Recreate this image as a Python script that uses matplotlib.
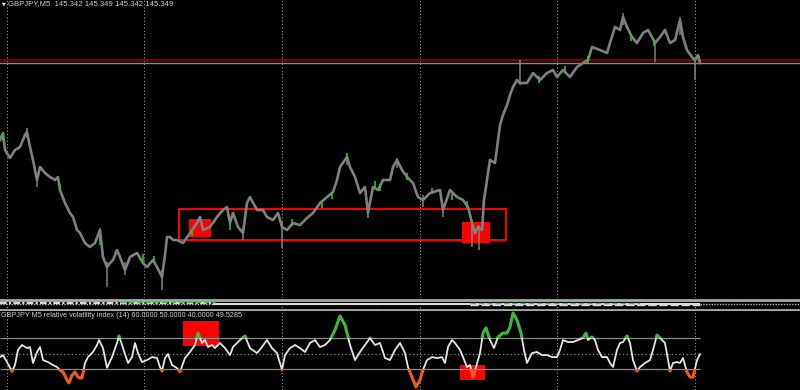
#!/usr/bin/env python3
"""GBPJPY M5 chart with relative volatility index sub-window (MT4 style, dark)."""
import matplotlib
matplotlib.use("Agg")
import matplotlib.pyplot as plt
import numpy as np
from matplotlib.patches import Rectangle

# ---- price path (bar index, price) ----
bar_x = [0, 3, 5, 10, 15, 20, 25, 27, 30, 33, 37, 40, 45, 50, 55, 58, 60, 65, 70, 73,
         77, 80, 85, 90, 95, 100, 103, 107, 110, 113, 117, 120, 125, 130, 137, 143, 147, 153, 157, 162,
         165, 167, 170, 173, 177, 183, 190, 197, 200, 203, 210, 217, 223, 227, 230, 233, 238, 243, 247, 250,
         257, 263, 267, 273, 278, 282, 287, 293, 300, 307, 313, 320, 327, 333, 337, 340, 347, 350, 355, 360,
         365, 368, 373, 378, 383, 390, 393, 397, 402, 407, 413, 418, 423, 430, 440, 443, 450, 457, 463, 468,
         472, 475, 478, 482, 484, 487, 490, 495, 498, 500, 503, 507, 510, 513, 517, 520, 527, 533, 540, 547,
         553, 557, 563, 570, 577, 583, 588, 592, 600, 607, 610, 615, 620, 623, 627, 632, 637, 643, 648, 652,
         655, 660, 665, 670, 675, 680, 683, 687, 692, 695, 698, 700]
price = [144.58, 144.65, 144.48, 144.40, 144.48, 144.51, 144.63, 144.66, 144.51, 144.38,
         144.18, 144.31, 144.25, 144.21, 144.18, 144.21, 144.08, 143.95, 143.85, 143.81,
         143.68, 143.65, 143.55, 143.51, 143.55, 143.68, 143.41, 143.31, 143.35, 143.38,
         143.48, 143.41, 143.28, 143.41, 143.45, 143.35, 143.31, 143.38, 143.31, 143.21,
         143.43, 143.61, 143.61, 143.58, 143.58, 143.55, 143.65, 143.75, 143.81, 143.68,
         143.71, 143.81, 143.88, 143.91, 143.75, 143.85, 143.71, 143.65, 143.95, 144.01,
         143.88, 143.88, 143.81, 143.78, 143.85, 143.71, 143.68, 143.75, 143.73, 143.80,
         143.85, 143.95, 144.01, 144.06, 144.18, 144.31, 144.41, 144.31, 144.21, 144.05,
         144.11, 143.85, 144.11, 144.08, 144.18, 144.18, 144.31, 144.38, 144.28, 144.21,
         144.15, 144.01, 143.98, 144.05, 144.08, 143.88, 144.08, 144.01, 143.98, 143.91,
         143.75, 143.65, 143.71, 143.68, 143.98, 144.18, 144.38, 144.35, 144.58, 144.73,
         144.83, 144.93, 145.03, 145.11, 145.18, 145.15, 145.15, 145.25, 145.18, 145.25,
         145.28, 145.21, 145.28, 145.21, 145.31, 145.35, 145.38, 145.51, 145.48, 145.45,
         145.55, 145.71, 145.68, 145.81, 145.71, 145.61, 145.55, 145.65, 145.68, 145.61,
         145.55, 145.61, 145.68, 145.55, 145.58, 145.78, 145.61, 145.48, 145.41, 145.38,
         145.43, 145.35]

# long wicks (bar index, high, low)
wick_x = [27, 37, 100, 107, 125, 162, 243, 282, 347, 368, 397, 423, 443, 472, 479,
          520, 623, 655, 680, 695]
wick_hi = [144.70, 144.23, 143.70, 143.36, 143.36, 143.28, 143.70, 143.76, 144.43, 143.93,
           144.40, 144.03, 143.93, 143.78, 143.73, 145.38, 145.85, 145.58, 145.81, 145.40]
wick_lo = [144.60, 144.11, 143.58, 143.11, 143.23, 143.08, 143.58, 143.50, 144.33, 143.80,
           144.30, 143.91, 143.81, 143.51, 143.48, 145.13, 145.73, 145.36, 145.63, 145.18]

# green (highlighted) bars
green_x = [3, 60, 100, 143, 154, 192, 230, 292, 322, 332, 347, 375, 380, 407, 432,
           452, 467, 539, 565, 588, 631, 654]
green_p = [144.60, 144.10, 143.56, 143.40, 143.39, 143.65, 143.71, 143.75, 143.93, 144.02,
           144.41, 144.13, 144.10, 144.21, 144.07, 144.01, 143.93, 145.18, 145.28, 145.38,
           145.60, 145.55]

ask_price = 145.38
bid_price = 145.35

# objects drawn on the chart (x0, x1, p_low, p_high)
frame_box = (179, 506, 143.58, 143.89)
fill_boxes = [(189, 211, 143.61, 143.79), (462, 490, 143.55, 143.76)]

grid_x = [7, 144, 282, 420, 557, 695]

# ---- relative volatility index (14) ----
rvi_x = [0, 3, 7, 12, 15, 18, 22, 27, 30, 33, 37, 40, 43, 48, 53, 57, 60, 63, 67, 69,
         72, 75, 78, 82, 85, 88, 93, 97, 99, 103, 107, 112, 117, 119, 123, 128, 132, 135, 138, 142,
         147, 152, 157, 160, 162, 165, 168, 172, 177, 180, 185, 190, 195, 198, 202, 205, 208, 212, 215, 220,
         225, 230, 233, 240, 245, 250, 257, 262, 267, 272, 277, 282, 285, 290, 295, 300, 305, 310, 315, 320,
         325, 330, 335, 340, 345, 350, 355, 360, 365, 370, 375, 380, 385, 390, 395, 400, 405, 408, 412, 416,
         420, 423, 427, 432, 437, 442, 445, 448, 452, 455, 460, 463, 467, 470, 473, 476, 480, 483, 486, 490,
         494, 498, 503, 507, 510, 513, 517, 521, 524, 527, 532, 537, 542, 547, 552, 557, 560, 563, 568, 573,
         578, 583, 586, 588, 592, 595, 598, 602, 607, 610, 613, 617, 620, 623, 627, 630, 633, 637, 640, 645,
         650, 653, 657, 662, 665, 670, 673, 677, 680, 683, 687, 690, 693, 697, 700]
rvi = [47.7, 49.0, 44.5, 38.5, 42.6, 52.3, 55.5, 53.5, 54.2, 43.9, 51.0, 54.2, 45.8, 44.5, 42.6, 41.3, 39.4, 38.1, 32.9, 31.0,
       36.1, 38.1, 34.8, 34.2, 43.9, 47.7, 51.0, 55.5, 58.7, 53.5, 40.8, 47.7, 56.8, 61.3, 53.5, 43.9, 47.7, 56.8, 50.3, 44.5,
       45.8, 47.7, 47.1, 41.3, 38.7, 47.1, 49.7, 42.6, 40.6, 38.3, 47.1, 51.0, 55.5, 63.2, 56.8, 58.7, 54.2, 55.5, 53.5, 56.8,
       53.5, 49.0, 54.2, 58.7, 61.3, 53.5, 50.3, 54.2, 58.7, 53.5, 50.3, 39.5, 49.0, 53.5, 55.5, 53.5, 51.0, 56.8, 58.7, 54.2,
       55.5, 58.7, 65.2, 74.2, 68.4, 55.5, 45.8, 51.0, 55.5, 60.0, 55.5, 56.8, 47.1, 45.8, 52.3, 56.8, 50.3, 41.3, 34.8, 28.4,
       32.9, 39.4, 45.8, 47.7, 47.1, 47.7, 43.9, 54.2, 58.7, 56.8, 52.3, 47.7, 41.3, 42.6, 34.8, 41.3, 50.3, 63.2, 66.5, 58.7,
       53.5, 60.6, 63.2, 63.2, 67.1, 76.1, 71.6, 63.2, 52.3, 43.9, 50.3, 51.0, 49.0, 49.0, 47.7, 47.7, 52.3, 58.7, 57.4, 57.4,
       58.7, 60.0, 63.2, 58.7, 60.6, 58.7, 52.3, 47.7, 47.7, 43.9, 41.3, 52.3, 56.8, 57.4, 61.3, 56.8, 45.8, 38.7, 41.3, 43.9,
       45.8, 52.3, 61.9, 58.7, 56.8, 38.7, 43.9, 44.5, 43.9, 47.1, 38.1, 34.8, 34.8, 45.8, 49.53]
rvi_levels = [60, 50, 40]

# boxes in the indicator window (x0, x1, v_low, v_high)
rvi_boxes = [(183, 219, 54.8, 71.0), (460, 485, 32.9, 42.6)]

TITLE = "GBPJPY,M5  145.342 145.349 145.342 145.349"
SUB_TITLE = "GBPJPY M5 relative volatility index (14) 60.0000 50.0000 40.0000 49.5285"

BG = "#000000"
BAR = "#808080"
GRID = "#9a9a9a"
RED = "#ff0000"

plt.rcParams["font.family"] = ["Liberation Sans", "DejaVu Sans"]

fig = plt.figure(figsize=(8, 3.9), dpi=100, facecolor=BG)
H = 390.0
ax = fig.add_axes([0, 92 / H, 1, 298 / H])
mid = fig.add_axes([0, 79 / H, 1, 13 / H])
low = fig.add_axes([0, 0, 1, 79 / H])

for a in (ax, mid, low):
    a.set_facecolor(BG)
    a.set_xlim(0, 800)
    a.set_xticks(grid_x)
    a.tick_params(length=0, labelbottom=False, labelleft=False)
    a.set_yticks([])
    a.grid(axis="x", color=GRID, linestyle=(0, (1, 2)), linewidth=0.8)
    for s in a.spines.values():
        s.set_visible(False)

# ---- main price window ----
ax.set_ylim(143.00, 145.98)
x0, x1, p0, p1 = frame_box
ax.add_patch(Rectangle((x0, p0), x1 - x0, p1 - p0, fill=False, edgecolor=RED, lw=1.4, zorder=2))
for bx0, bx1, bp0, bp1 in fill_boxes:
    ax.add_patch(Rectangle((bx0, bp0), bx1 - bx0, bp1 - bp0, facecolor=RED, edgecolor="none", zorder=2))
ax.axhline(ask_price, color="#7d0000", lw=1.6, zorder=2)
ax.axhline(bid_price, color="#8a8a8a", lw=1.0, zorder=2)
ax.plot(bar_x, price, color=BAR, lw=1.9, zorder=3)
ax.vlines(wick_x, wick_lo, wick_hi, color=BAR, lw=1.1, zorder=3)
gp = np.array(green_p)
ax.vlines(green_x, gp - 0.035, gp + 0.035, color="#2fc02f", lw=1.2, zorder=4)

fig.text(2 / 800, 1 - 1.5 / H, "\u25bc", color="white", fontsize=3.5, va="top",
         family="DejaVu Sans")
fig.text(8 / 800, 1 - 0.5 / H, TITLE, color="#d0d0d0", fontsize=5.6, va="top")

# ---- squashed middle window ----
mid.set_ylim(13, 0)
mid.axhline(1.5, color="#a8a8a8", lw=2.0)
mid.axhline(11.5, color="#a8a8a8", lw=2.0)
mid.hlines(5.5, 0, 800, color="#bdbdbd", lw=1.0, linestyles=(0, (1, 1)))
mid.hlines(4.8, 0, 213, color="#d8d8d8", lw=1.6, linestyles=(0, (3, 1, 1, 1)))
mid.hlines(5.6, 213, 700, color="#e0e0e0", lw=1.4)
mid.hlines([4.2, 4.8], [120, 470], [215, 640], color="#3bc43b", lw=1.0, linestyles=(0, (4, 2)))
mid.hlines(6.6, 470, 700, color="#d8d8d8", lw=1.0, linestyles=(0, (6, 2)))

# ---- relative volatility index window ----
low.set_ylim(26.5, 77.4)
for rx0, rx1, rv0, rv1 in rvi_boxes:
    low.add_patch(Rectangle((rx0, rv0), rx1 - rx0, rv1 - rv0, facecolor=RED, edgecolor="none", zorder=1))
low.hlines([rvi_levels[0], rvi_levels[2]], 0, rvi_x[-1], color="#8c8c8c", lw=0.9, zorder=2)
low.hlines(rvi_levels[1], 0, rvi_x[-1], color="#8c8c8c", lw=0.9, linestyles=(0, (1, 2)), zorder=2)
low.plot(rvi_x, rvi, color="#e6e6e6", lw=1.3, zorder=3)
up_line, = low.plot(rvi_x, rvi, color="#3cb83c", lw=2.2, zorder=4)
up_line.set_clip_path(Rectangle((0, rvi_levels[0]), 800, 40, transform=low.transData))
dn_line, = low.plot(rvi_x, rvi, color="#ec5a1c", lw=2.2, zorder=4)
dn_line.set_clip_path(Rectangle((0, 0), 800, rvi_levels[2], transform=low.transData))
low.text(1, 77.4 - 0.4, SUB_TITLE, color="#d0d0d0", fontsize=5.2, va="top")

fig.savefig("out.png", dpi=100, facecolor=BG)
